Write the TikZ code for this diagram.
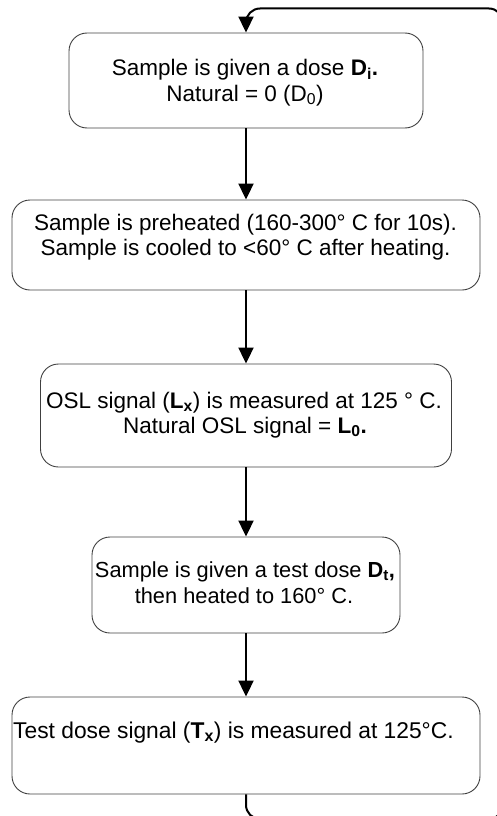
\documentclass[tikz,border=0pt]{standalone}
\usepackage{fontspec}
\setmainfont{Liberation Sans}
\usetikzlibrary{arrows.meta}
\tikzset{
  box/.style={draw=black!75, line width=0.9pt, rounded corners=18pt, minimum width=#1, inner sep=0pt},
  lbl/.style={anchor=base, inner sep=0pt, font=\fontsize{22.5}{25.5}\selectfont, text=black},
  conn/.style={draw=black, line width=2pt, -{Triangle[length=16pt,width=15pt]}},
}
\begin{document}
\begin{tikzpicture}[x=1pt,y=-1pt]
\useasboundingbox (0,0) rectangle (496,816);
% boxes
\node[box=354pt, minimum height=95pt] (b1) at (246,80.5) {};
\node[box=468pt, minimum height=90pt] (b2) at (246,245) {};
\node[box=411pt, minimum height=103pt] (b3) at (246,415.5) {};
\node[box=308pt, minimum height=96pt] (b4) at (246,585) {};
\node[box=468pt, minimum height=97pt] (b5) at (246,745.5) {};
% texts
\node[lbl] (t1a) at (245,75) {Sample is given a dose \textbf{D\textsubscript{i}.}};
\node[lbl] (t1b) at (245,101) {Natural = 0 (D\textsubscript{0})};
\node[lbl] (t2a) at (245.5,230) {Sample is preheated (160-300° C for 10s).};
\node[lbl] (t2b) at (245.5,255) {Sample is cooled to <60° C after heating.};
\node[lbl] (t3a) at (244,408) {OSL signal (\textbf{L\textsubscript{x}}) is measured at 125 ° C.};
\node[lbl] (t3b) at (245,433) {Natural OSL signal = \textbf{L\textsubscript{0}.}};
\node[lbl, font=\fontsize{21.8}{25}\selectfont] (t4a) at (245,577) {Sample is given a test dose \textbf{D\textsubscript{t},}};
\node[lbl, font=\fontsize{21.8}{25}\selectfont] (t4b) at (244,603) {then heated to 160° C.};
\node[lbl, anchor=base west, font=\fontsize{22.8}{26}\selectfont] (t5) at (13,738) {Test dose signal (\textbf{T\textsubscript{x}}) is measured at 125°C.};
% connectors
\draw[conn] (b1.south) -- (b2.north);
\draw[conn] (b2.south) -- (b3.north);
\draw[conn] (b3.south) -- (b4.north);
\draw[conn] (b4.south) -- (b5.north);
\coordinate (lb) at (503,819);
\coordinate (lt) at (503,8.5);
\draw[conn, rounded corners=14pt] (b5.south) |- (lb) -- (lt) -| (b1.north);
\end{tikzpicture}
\end{document}
